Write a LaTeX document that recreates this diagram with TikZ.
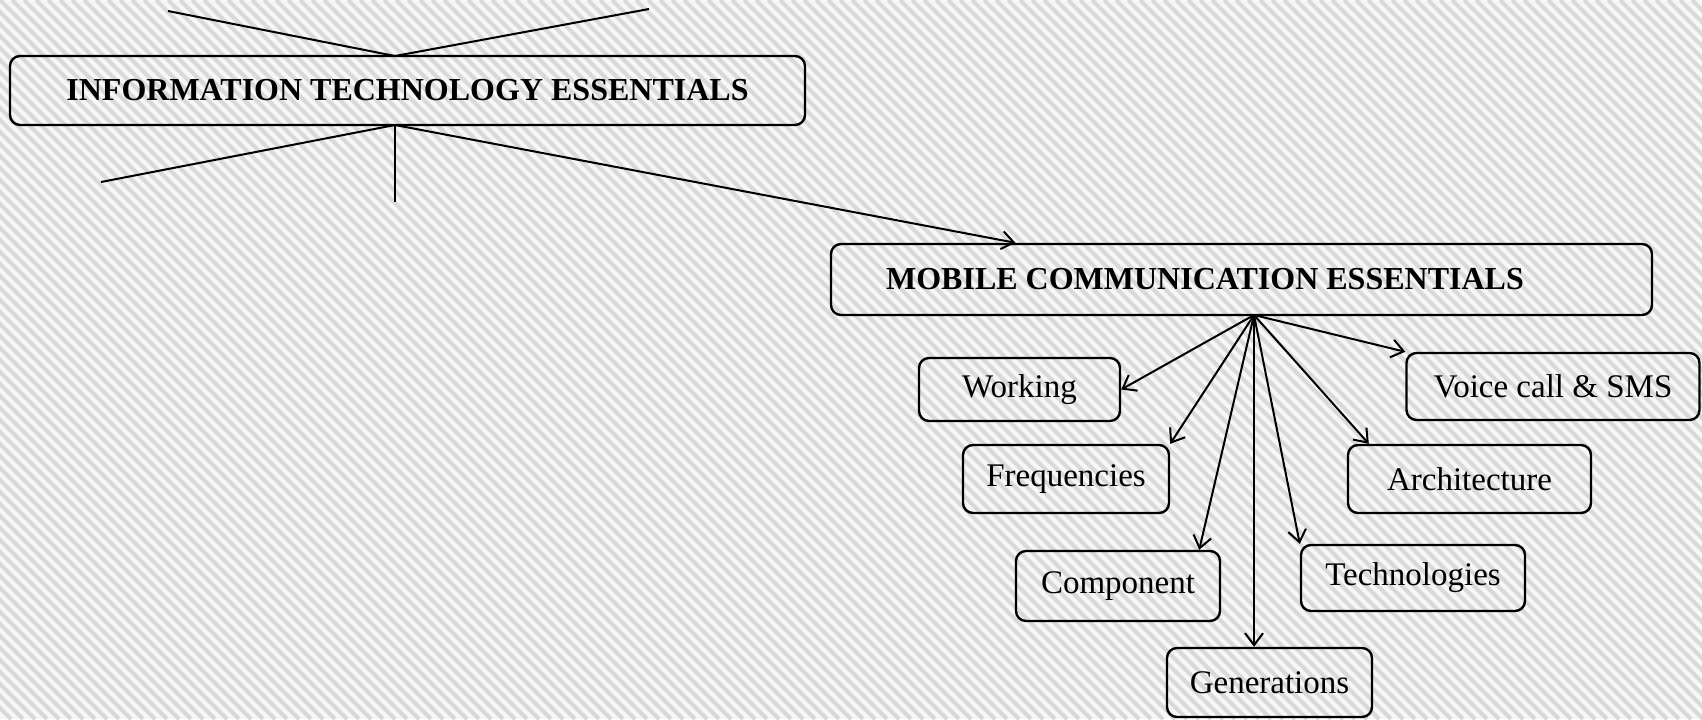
\documentclass[tikz,border=0pt]{standalone}
\usepackage{fontspec}
\setmainfont{Liberation Serif}
\usetikzlibrary{arrows.meta}

\begin{document}
\begin{tikzpicture}
	[x=0.5pt,y=-0.5pt,>={Straight Barb[length=6pt,width=9pt]},
	 every node/.style={draw=black,rounded corners=5pt,line width=1.2pt,inner sep=0pt},
	 topic/.style={font=\fontsize{16}{19}\selectfont\bfseries},
	 item/.style={font=\fontsize{16.5}{19}\selectfont},
	 link/.style={line width=1pt}]
	% hatched backdrop
	\useasboundingbox (0,0) rectangle (1702,719);
	\fill[gray!6] (0,0) rectangle (1702,719);
	\begin{scope}
	\clip (0,0) rectangle (1702,719);
	\foreach \a in {-720,-708,...,1710}
	\draw[gray!30,line width=2pt] (\a,0) -- (\a+719,719);
	\end{scope}
	
	\node[topic,minimum width=397.5pt,minimum height=34.5pt] (ite) at (407.5,90.5) {INFORMATION TECHNOLOGY ESSENTIALS};
	\node[topic,minimum width=410.5pt,minimum height=35.5pt] (mce) at (1241.5,279.5) {MOBILE COMMUNICATION ESSENTIALS\hspace*{36.5pt}};
	\node[item,minimum width=100.5pt,minimum height=31.5pt] (work) at (1019.5,389.5) {Working};
	\node[item,minimum width=146.5pt,minimum height=33.5pt] (voice) at (1553,386.5) {Voice call \& SMS};
	\node[item,minimum width=103pt,minimum height=34pt] (freq) at (1066,479) {Frequencies};
	\node[item,minimum width=121.5pt,minimum height=34pt] (arch) at (1469.5,479) {Architecture};
	\node[item,minimum width=102pt,minimum height=35pt] (comp) at (1118,586) {Component};
	\node[item,minimum width=112pt,minimum height=33pt] (tech) at (1413,578) {Technologies};
	\node[item,minimum width=102.5pt,minimum height=34.5pt] (gen) at (1269.5,682.5) {Generations};
	
	\coordinate (itop) at (395,56);
	\coordinate (ibot) at (395,125);
	\coordinate (ul) at (168,11);
	\coordinate (ur) at (649,9);
	\coordinate (dl) at (101,182);
	\coordinate (dm) at (395,202);
	\coordinate (hub) at (1254,315);
	
	\foreach \from/\to in {itop/ul,itop/ur,ibot/dl,ibot/dm}
	\draw[link] (\from) -- (\to);
	\draw[link,->] (ibot) -- ([xshift=-113pt]mce.north);
	
	\foreach \to in {work.east,voice.north west,freq.north east,tech.north west}
	\draw[link,->] (hub) -- (\to);
	\draw[link,->] (hub) -- ([xshift=11pt]arch.north west);
	\draw[link,->] (hub) -- ([xshift=-11pt]comp.north east);
	\draw[link,->] (hub) -- (hub |- gen.north);
	\end{tikzpicture}
\end{document}
